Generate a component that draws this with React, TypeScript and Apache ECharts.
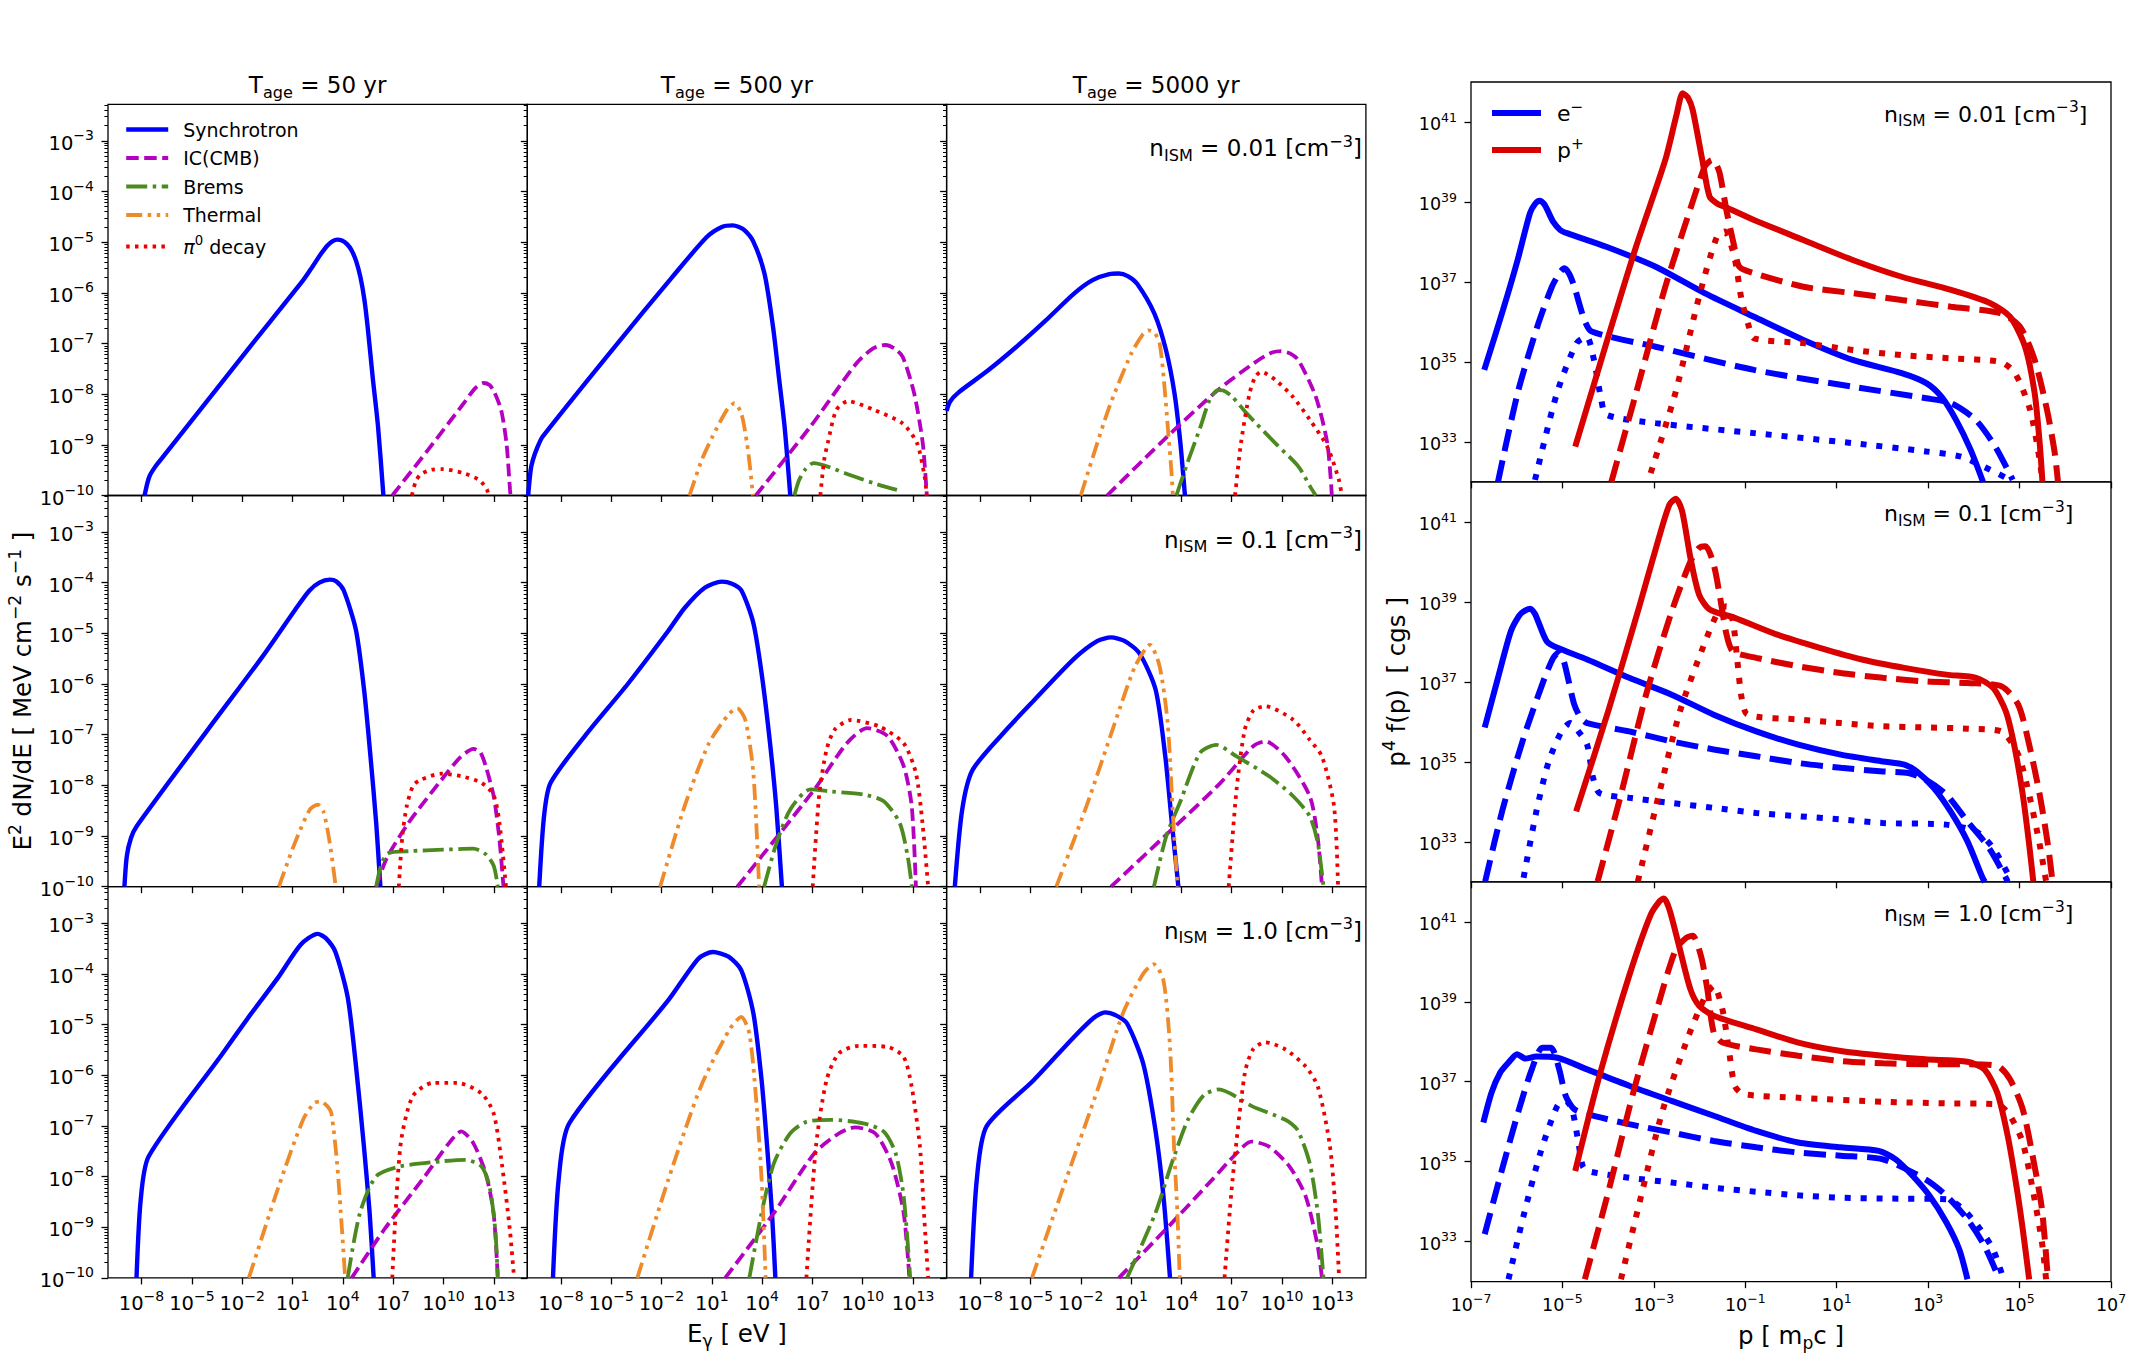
import { useEffect, useRef } from 'react';
import * as echarts from 'echarts';

const FONT = '"DejaVu Sans", sans-serif';

// ---- axis extents and ticks (decades, log10 of the quantity) ----
const energyRange = [-10, 15];
const fluxRange = [-10, -2.28];
const momentumRange = [-7, 7];
const spectrumRange = [32, 42];

const energyTicks = [-8, -5, -2, 1, 4, 7, 10, 13];
const fluxTicks = [-10, -9, -8, -7, -6, -5, -4, -3];
const momentumTicks = [-7, -5, -3, -1, 1, 3, 5, 7];
const spectrumTicks = [33, 35, 37, 39, 41];

const ageLabels = ['50', '500', '5000'];
const densityLabels = ['0.01', '0.1', '1.0'];

// ---- photon spectra, [log10 E/eV, log10 E^2 dN/dE] ----
// n_ISM = 0.01
const synch_n001_t50 = [[-7.82, -10], [-7.65, -9.75], [-7.5, -9.6], [-7.2, -9.44], [-6.97, -9.34], [-4, -8.1], [-1.55, -7.07], [1.64, -5.75], [2.2, -5.48], [2.7, -5.23], [3.1, -5.06], [3.4, -4.98], [3.66, -4.95], [3.95, -4.97], [4.25, -5.04], [4.52, -5.16], [4.8, -5.38], [5.05, -5.69], [5.28, -6.12], [5.48, -6.67], [5.78, -7.66], [6.1, -8.64], [6.42, -10]];
const ic_n001_t50 = [[6.95, -10], [9.08, -9.1], [11.21, -8.18], [11.9, -7.88], [12.38, -7.78], [12.75, -7.82], [13.02, -7.95], [13.44, -8.31], [13.76, -8.97], [13.97, -9.89], [14.0, -10]];
const brems_n001_t50: number[][] = [];
const thermal_n001_t50: number[][] = [];
const pi0_n001_t50 = [[8.12, -10], [8.35, -9.72], [8.65, -9.58], [9.29, -9.49], [9.93, -9.48], [11.21, -9.56], [12.16, -9.7], [12.59, -9.88], [12.7, -10]];

const synch_n001_t500 = [[-9.95, -10], [-9.8, -9.5], [-9.67, -9.3], [-9.4, -9.05], [-9.09, -8.84], [-4.8, -7.07], [-1.36, -5.69], [0.7, -4.9], [1.6, -4.7], [2.25, -4.67], [2.9, -4.75], [3.45, -4.97], [4.14, -5.62], [4.65, -6.67], [5.0, -7.66], [5.34, -8.64], [5.68, -10]];
const ic_n001_t500 = [[3.62, -10], [6.88, -8.64], [9.63, -7.39], [10.6, -7.1], [11.35, -7.03], [11.9, -7.1], [12.38, -7.26], [13.07, -7.99], [13.58, -8.97], [13.82, -10]];
const brems_n001_t500 = [[5.92, -10], [6.2, -9.7], [6.54, -9.5], [7.06, -9.36], [8.95, -9.56], [10.67, -9.76], [12.04, -9.89]];
const thermal_n001_t500 = [[-0.33, -10], [0.4, -9.3], [1.04, -8.84], [1.9, -8.31], [2.35, -8.18], [2.76, -8.38], [3.1, -8.97], [3.3, -9.5], [3.45, -10]];
const pi0_n001_t500 = [[7.47, -10], [7.7, -9.3], [7.91, -8.97], [8.43, -8.31], [9.12, -8.14], [10.67, -8.31], [12.38, -8.58], [13.24, -8.97], [13.69, -9.63], [13.82, -10]];

const synch_n001_t5000 = [[-10, -8.33], [-9.8, -8.15], [-9.3, -7.97], [-7.6, -7.55], [-5.85, -7.07], [-4.1, -6.55], [-2.42, -6.02], [-1.3, -5.75], [-0.3, -5.63], [0.26, -5.62], [0.8, -5.67], [1.36, -5.82], [2.39, -6.41], [3.08, -7.13], [3.59, -7.99], [3.94, -8.97], [4.21, -10]];
const ic_n001_t5000 = [[-0.43, -10], [2.74, -8.97], [6.17, -7.92], [8.58, -7.33], [9.4, -7.18], [9.95, -7.15], [10.5, -7.2], [10.98, -7.33], [12.01, -8.05], [12.7, -8.97], [12.97, -10]];
const brems_n001_t5000 = [[3.7, -10], [4.28, -9.43], [5.14, -8.64], [5.7, -8.1], [6.17, -7.92], [6.5, -7.93], [7.03, -8.05], [7.89, -8.38], [9.61, -8.97], [10.98, -9.43], [11.67, -9.82], [12.01, -10]];
const thermal_n001_t5000 = [[-2.0, -10], [-0.36, -8.31], [1.01, -7.2], [1.7, -6.82], [2.05, -6.74], [2.4, -6.79], [2.7, -7.0], [2.95, -7.7], [3.2, -8.7], [3.4, -9.5], [3.49, -10]];
const pi0_n001_t5000 = [[7.2, -10], [7.55, -8.97], [8.06, -7.99], [8.4, -7.66], [8.75, -7.56], [9.61, -7.72], [10.64, -8.05], [11.67, -8.51], [12.7, -9.04], [13.39, -9.69], [13.56, -10]];

// n_ISM = 0.1
const synch_n01_t50 = [[-9.02, -10], [-8.88, -9.4], [-8.63, -9.04], [-8.3, -8.81], [-4.0, -6.88], [-0.79, -5.46], [1.15, -4.54], [2.0, -4.16], [2.6, -4.0], [3.22, -3.94], [3.6, -3.97], [4.05, -4.15], [4.78, -4.93], [5.27, -6.12], [5.65, -7.43], [5.99, -8.74], [6.24, -10]];
const ic_n01_t50 = [[6.0, -10], [6.6, -9.45], [7.92, -8.74], [9.86, -7.9], [11.0, -7.45], [11.79, -7.28], [12.2, -7.35], [12.52, -7.62], [13.0, -8.22], [13.34, -9.07], [13.58, -10]];
const brems_n01_t50 = [[5.99, -10], [6.3, -9.55], [6.71, -9.34], [7.92, -9.3], [10.0, -9.27], [11.79, -9.25], [12.52, -9.36], [13.0, -9.59], [13.24, -10]];
const thermal_n01_t50 = [[0.19, -10], [1.15, -9.13], [2.03, -8.48], [2.51, -8.38], [2.85, -8.52], [3.22, -9.13], [3.58, -10]];
const pi0_n01_t50 = [[7.34, -10], [7.55, -9.0], [7.82, -8.4], [8.2, -8.0], [8.64, -7.89], [9.85, -7.77], [11.06, -7.82], [12.27, -7.95], [13.0, -8.2], [13.34, -8.74], [13.73, -10]];

const synch_n01_t500 = [[-9.29, -10], [-9.0, -8.6], [-8.61, -7.95], [-6.43, -6.97], [-4.01, -6.0], [-1.59, -4.95], [-0.62, -4.5], [0.58, -4.1], [1.6, -3.98], [2.2, -4.02], [2.76, -4.15], [3.48, -4.8], [3.97, -5.79], [4.45, -7.1], [4.84, -8.41], [5.18, -10]];
const ic_n01_t500 = [[2.52, -10], [7.12, -8.08], [9.05, -7.17], [10.26, -6.87], [11.48, -7.03], [12.44, -7.62], [12.92, -8.41], [13.17, -10]];
const brems_n01_t500 = [[4.12, -10], [4.8, -9.2], [5.67, -8.48], [6.88, -8.08], [8.09, -8.12], [10.03, -8.18], [11.23, -8.31], [12.2, -8.74], [12.68, -9.4], [12.93, -10]];
const thermal_n01_t500 = [[-2.08, -10], [-0.62, -8.41], [0.83, -7.17], [2.0, -6.6], [2.52, -6.48], [3.0, -6.71], [3.48, -7.76], [3.82, -10]];
const pi0_n01_t500 = [[7.02, -10], [7.4, -8.2], [7.84, -7.3], [8.33, -6.9], [9.29, -6.71], [10.99, -6.84], [12.44, -7.17], [13.17, -7.76], [13.56, -8.74], [13.9, -10]];

const synch_n01_t5000 = [[-9.51, -10], [-9.07, -8.48], [-8.44, -7.69], [-6.26, -6.84], [-4.81, -6.33], [-2.39, -5.5], [-1.0, -5.15], [-0.2, -5.08], [0.6, -5.15], [1.49, -5.39], [2.46, -6.11], [3.04, -7.43], [3.43, -8.74], [3.82, -10]];
const ic_n01_t5000 = [[-0.2, -10], [3.43, -8.87], [6.33, -7.95], [8.27, -7.23], [9.0, -7.13], [10.2, -7.43], [11.66, -8.22], [12.14, -9.07], [12.38, -10]];
const brems_n01_t5000 = [[2.36, -10], [3.1, -9.0], [3.9, -8.35], [5.11, -7.36], [6.08, -7.2], [7.29, -7.43], [9.23, -7.82], [10.68, -8.22], [11.65, -8.61], [12.13, -9.13], [12.47, -10]];
const thermal_n01_t5000 = [[-3.46, -10], [-1.66, -8.41], [0.03, -6.77], [1.24, -5.65], [2.12, -5.23], [2.7, -5.65], [3.18, -6.77], [3.52, -8.74], [3.77, -10]];
const pi0_n01_t5000 = [[6.82, -10], [7.29, -8.08], [7.78, -6.9], [8.3, -6.52], [8.99, -6.44], [10.68, -6.71], [11.65, -7.1], [12.38, -7.43], [13.1, -8.41], [13.34, -10]];

// n_ISM = 1.0
const synch_n1_t50 = [[-8.3, -10], [-8.05, -8.46], [-7.57, -7.6], [-3.21, -5.59], [-1.5, -4.8], [0.17, -4.06], [1.5, -3.42], [2.5, -3.21], [3.0, -3.3], [3.56, -3.57], [4.29, -4.46], [4.77, -5.77], [5.26, -7.41], [5.6, -8.72], [5.84, -10]];
const ic_n1_t50 = [[4.53, -10], [6.46, -9.05], [8.88, -8.0], [10.33, -7.34], [11.06, -7.11], [11.78, -7.34], [12.51, -7.93], [12.99, -8.72], [13.24, -10]];
const brems_n1_t50 = [[4.29, -10], [5.02, -8.72], [5.98, -8.0], [7.43, -7.8], [9.85, -7.7], [11.3, -7.67], [12.27, -7.8], [12.75, -8.2], [13.09, -9.05], [13.24, -10]];
const thermal_n1_t50 = [[-1.6, -10], [0.17, -8.2], [1.63, -6.88], [2.3, -6.55], [2.69, -6.52], [3.1, -6.62], [3.32, -6.75], [3.66, -7.74], [3.95, -9.05], [4.14, -10]];
const pi0_n1_t50 = [[6.95, -10], [7.43, -7.41], [8.16, -6.42], [9.37, -6.15], [10.82, -6.15], [12.27, -6.36], [12.99, -6.75], [13.48, -7.74], [13.96, -9.05], [14.21, -10]];

const synch_n1_t500 = [[-8.47, -10], [-8.13, -8.06], [-7.5, -6.95], [-1.59, -4.52], [0.2, -3.7], [1.06, -3.57], [2.0, -3.66], [2.76, -3.93], [3.48, -4.78], [3.97, -6.1], [4.3, -7.41], [4.59, -8.72], [4.79, -10]];
const ic_n1_t500 = [[1.8, -10], [4.7, -8.72], [7.12, -7.54], [8.57, -7.15], [9.54, -7.03], [10.75, -7.15], [11.72, -7.74], [12.44, -8.72], [12.78, -10]];
const brems_n1_t500 = [[3.24, -10], [3.97, -8.72], [4.7, -7.74], [5.67, -7.15], [6.64, -6.92], [8.09, -6.88], [10.03, -6.95], [11.24, -7.11], [11.96, -7.54], [12.44, -8.39], [12.83, -10]];
const thermal_n1_t500 = [[-3.44, -10], [-1.59, -8.06], [0.34, -6.23], [2.03, -5.11], [2.76, -4.85], [3.24, -5.18], [3.63, -6.42], [3.97, -8.06], [4.21, -10]];
const pi0_n1_t500 = [[6.64, -10], [7.21, -7.41], [7.84, -6.1], [8.57, -5.57], [9.78, -5.42], [11.47, -5.44], [12.44, -5.64], [12.92, -6.23], [13.41, -7.41], [13.65, -8.72], [13.9, -10]];

const synch_n1_t5000 = [[-8.54, -10], [-8.2, -8.06], [-7.62, -7.01], [-4.81, -6.1], [-2.39, -5.24], [-1.2, -4.86], [-0.55, -4.76], [0.1, -4.82], [0.76, -4.98], [1.72, -5.77], [2.45, -7.08], [2.93, -8.39], [3.32, -10]];
const ic_n1_t5000 = [[0.27, -10], [3.42, -8.92], [5.84, -8.06], [7.29, -7.54], [8.16, -7.31], [9.23, -7.41], [10.44, -7.8], [11.41, -8.39], [12.13, -9.38], [12.38, -10]];
const brems_n1_t5000 = [[0.76, -10], [2.45, -8.72], [3.42, -7.74], [4.39, -6.88], [5.35, -6.39], [6.22, -6.28], [8.26, -6.62], [10.2, -6.88], [10.92, -7.08], [11.65, -7.74], [12.13, -8.72], [12.47, -10]];
const thermal_n1_t5000 = [[-4.91, -10], [-2.88, -8.06], [-0.94, -6.23], [0.51, -4.78], [1.72, -4.0], [2.35, -3.81], [2.93, -4.13], [3.32, -5.44], [3.56, -7.41], [3.76, -8.72], [3.9, -10]];
const pi0_n1_t5000 = [[6.57, -10], [7.05, -8.06], [7.78, -5.96], [8.27, -5.49], [8.99, -5.35], [10.2, -5.49], [11.41, -5.83], [12.14, -6.23], [12.86, -7.41], [13.2, -8.72], [13.4, -10]];

// ---- particle spectra, [log10 p/(m_p c), log10 p^4 f(p)] ----
const electron_n001_t50 = [[-6.71, 34.8], [-6.3, 36.3], [-5.98, 37.55], [-5.71, 38.72], [-5.6, 38.95], [-5.5, 39.03], [-5.4, 38.95], [-5.33, 38.8], [-5.2, 38.5], [-5.05, 38.3], [-4.9, 38.22], [-4.04, 37.88], [-2.96, 37.38], [-1.89, 36.72], [-0.81, 36.13], [0.27, 35.55], [1.35, 35.05], [2.42, 34.72], [2.96, 34.47], [3.29, 34.13], [3.61, 33.55], [3.93, 32.8], [4.2, 32.0]];
const electron_n001_t500 = [[-6.41, 32.0], [-5.98, 34.22], [-5.55, 35.88], [-5.23, 36.88], [-5.05, 37.25], [-4.96, 37.34], [-4.85, 37.2], [-4.74, 36.88], [-4.52, 36.05], [-4.36, 35.76], [-2.96, 35.38], [-0.81, 34.8], [1.35, 34.38], [2.96, 34.09], [3.5, 33.97], [4.04, 33.55], [4.47, 32.88], [4.85, 32.05]];
const electron_n001_t5000 = [[-5.6, 32.05], [-5.12, 34.22], [-4.69, 35.47], [-4.47, 35.63], [-4.31, 35.05], [-4.15, 34.05], [-4.04, 33.68], [-2.96, 33.47], [-0.81, 33.22], [1.35, 32.97], [2.96, 32.76], [3.72, 32.63], [4.36, 32.3], [4.79, 32.05]];
const proton_n001_t50 = [[-4.72, 32.88], [-4.04, 35.47], [-3.39, 37.88], [-2.75, 40.05], [-2.5, 41.2], [-2.37, 41.72], [-2.25, 41.6], [-2.15, 41.3], [-1.94, 40.05], [-1.78, 39.13], [-1.6, 38.95], [-1.45, 38.88], [-0.81, 38.55], [0.27, 38.05], [1.35, 37.55], [2.42, 37.13], [3.5, 36.8], [4.36, 36.47], [4.79, 36.13], [5.12, 35.38], [5.33, 34.22], [5.44, 32.97], [5.5, 32.0]];
const proton_n001_t500 = [[-3.93, 32.0], [-3.39, 34.22], [-2.75, 36.88], [-2.21, 38.8], [-1.89, 39.88], [-1.78, 40.02], [-1.72, 40.05], [-1.64, 39.95], [-1.56, 39.72], [-1.4, 38.72], [-1.24, 37.88], [-1.13, 37.38], [-0.81, 37.22], [0.27, 36.88], [1.35, 36.72], [2.42, 36.55], [3.5, 36.38], [4.58, 36.22], [5.01, 35.88], [5.33, 35.05], [5.6, 33.8], [5.77, 32.72], [5.84, 32.0]];
const proton_n001_t5000 = [[-3.07, 32.22], [-2.53, 34.22], [-1.99, 36.72], [-1.62, 38.13], [-1.45, 38.26], [-1.24, 37.63], [-1.08, 36.55], [-0.92, 35.88], [-0.81, 35.59], [0.27, 35.47], [1.35, 35.3], [2.42, 35.17], [3.5, 35.09], [4.58, 35.0], [4.9, 34.72], [5.23, 33.8], [5.44, 32.55], [5.5, 32.0]];

const electron_n01_t50 = [[-6.7, 35.86], [-6.41, 37.1], [-6.13, 38.26], [-5.95, 38.65], [-5.85, 38.76], [-5.7, 38.83], [-5.6, 38.7], [-5.53, 38.51], [-5.34, 38.01], [-5.11, 37.85], [-4.46, 37.56], [-3.54, 37.1], [-2.61, 36.68], [-1.69, 36.18], [-0.76, 35.76], [0.16, 35.43], [1.09, 35.18], [2.01, 35.01], [2.48, 34.93], [2.75, 34.76], [3.12, 34.35], [3.49, 33.76], [3.86, 33.01], [4.19, 32.1], [4.24, 32.0]];
const electron_n01_t500 = [[-6.69, 32.01], [-6.32, 33.76], [-5.85, 35.6], [-5.39, 37.1], [-5.2, 37.6], [-5.09, 37.73], [-4.98, 37.55], [-4.88, 37.1], [-4.74, 36.43], [-4.6, 36.1], [-4.46, 35.97], [-3.54, 35.76], [-2.61, 35.51], [-1.69, 35.31], [-0.76, 35.14], [0.16, 34.97], [1.09, 34.85], [2.01, 34.76], [2.57, 34.72], [2.94, 34.56], [3.4, 34.18], [3.86, 33.51], [4.33, 32.85], [4.7, 32.1], [4.74, 32.0]];
const electron_n01_t5000 = [[-5.85, 32.1], [-5.57, 33.76], [-5.3, 35.01], [-5.02, 35.76], [-4.83, 35.97], [-4.65, 35.76], [-4.46, 35.43], [-4.33, 34.6], [-4.19, 34.22], [-3.54, 34.1], [-2.61, 33.97], [-1.69, 33.85], [-0.76, 33.72], [0.16, 33.64], [1.09, 33.56], [2.01, 33.47], [3.4, 33.43], [4.05, 33.26], [4.42, 32.85], [4.79, 32.1], [4.82, 32.0]];
const proton_n01_t50 = [[-4.7, 33.76], [-4.0, 36.26], [-3.35, 38.76], [-2.89, 40.6], [-2.66, 41.43], [-2.52, 41.58], [-2.38, 41.26], [-2.2, 40.1], [-2.01, 39.18], [-1.78, 38.81], [-1.23, 38.6], [-0.3, 38.18], [0.63, 37.85], [1.55, 37.56], [2.48, 37.35], [3.4, 37.18], [4.05, 37.1], [4.42, 36.85], [4.7, 36.26], [4.88, 35.43], [5.07, 34.18], [5.21, 32.93], [5.3, 32.01]];
const proton_n01_t500 = [[-4.23, 32.01], [-3.72, 34.18], [-3.17, 36.68], [-2.61, 38.76], [-2.2, 40.01], [-2.01, 40.35], [-1.87, 40.39], [-1.69, 39.93], [-1.55, 39.1], [-1.41, 38.18], [-1.27, 37.76], [-0.76, 37.6], [0.16, 37.39], [1.09, 37.22], [2.01, 37.1], [2.94, 37.01], [3.86, 36.97], [4.6, 36.89], [4.97, 36.43], [5.21, 35.43], [5.44, 34.18], [5.62, 32.93], [5.72, 32.01]];
const proton_n01_t5000 = [[-3.35, 32.01], [-2.89, 34.18], [-2.43, 36.26], [-1.96, 37.76], [-1.59, 38.76], [-1.41, 38.89], [-1.27, 38.51], [-1.18, 37.6], [-1.08, 36.6], [-0.95, 36.18], [0.16, 36.06], [1.09, 35.97], [2.01, 35.89], [2.94, 35.86], [3.86, 35.83], [4.6, 35.76], [4.97, 35.18], [5.21, 34.18], [5.44, 32.93], [5.58, 32.01]];

const electron_n1_t50 = [[-6.73, 35.98], [-6.55, 36.73], [-6.36, 37.23], [-6.18, 37.48], [-5.99, 37.69], [-5.81, 37.58], [-5.57, 37.63], [-5.11, 37.6], [-4.46, 37.31], [-3.54, 36.9], [-2.61, 36.52], [-1.69, 36.15], [-0.76, 35.77], [0.16, 35.48], [1.09, 35.36], [1.92, 35.27], [2.29, 35.06], [2.66, 34.65], [3.03, 34.15], [3.4, 33.48], [3.68, 32.81], [3.86, 32.06]];
const electron_n1_t500 = [[-6.7, 33.19], [-6.32, 34.81], [-5.95, 36.31], [-5.67, 37.31], [-5.44, 37.85], [-5.25, 37.85], [-5.07, 37.31], [-4.93, 36.65], [-4.74, 36.31], [-4.46, 36.19], [-3.54, 35.94], [-2.61, 35.73], [-1.69, 35.52], [-0.76, 35.36], [0.16, 35.23], [1.09, 35.15], [2.01, 35.06], [2.94, 34.56], [3.4, 34.15], [3.86, 33.56], [4.23, 32.9], [4.56, 32.06]];
const electron_n1_t5000 = [[-6.18, 32.06], [-5.85, 33.65], [-5.48, 35.23], [-5.11, 36.4], [-4.93, 36.52], [-4.79, 36.31], [-4.65, 35.48], [-4.56, 34.9], [-4.46, 34.77], [-3.54, 34.6], [-2.61, 34.48], [-1.69, 34.35], [-0.76, 34.25], [0.16, 34.16], [1.09, 34.1], [2.01, 34.08], [3.4, 34.06], [3.77, 33.81], [4.14, 33.31], [4.42, 32.81], [4.65, 32.06]];
const proton_n1_t50 = [[-4.72, 34.77], [-4.19, 37.15], [-3.54, 39.65], [-3.08, 41.15], [-2.87, 41.52], [-2.78, 41.58], [-2.66, 41.31], [-2.43, 40.31], [-2.2, 39.31], [-2.01, 38.9], [-1.69, 38.65], [-0.76, 38.31], [0.16, 37.98], [1.09, 37.77], [2.01, 37.65], [2.94, 37.56], [3.86, 37.5], [4.23, 37.31], [4.51, 36.73], [4.74, 35.65], [4.93, 34.4], [5.07, 33.31], [5.21, 32.06]];
const proton_n1_t500 = [[-4.51, 32.06], [-4.0, 34.23], [-3.45, 36.73], [-2.89, 38.98], [-2.52, 40.31], [-2.29, 40.6], [-2.15, 40.65], [-1.97, 40.15], [-1.83, 39.31], [-1.69, 38.23], [-1.5, 37.98], [-0.76, 37.81], [0.16, 37.65], [1.09, 37.52], [2.01, 37.46], [2.94, 37.44], [3.86, 37.44], [4.51, 37.4], [4.79, 37.06], [5.07, 36.31], [5.3, 35.06], [5.49, 33.81], [5.62, 32.06]];
const proton_n1_t5000 = [[-3.72, 32.06], [-3.26, 34.23], [-2.8, 36.31], [-2.24, 38.15], [-1.87, 39.15], [-1.69, 39.4], [-1.5, 38.81], [-1.36, 37.81], [-1.23, 36.9], [-1.04, 36.69], [0.16, 36.6], [2.01, 36.5], [3.4, 36.46], [4.51, 36.44], [4.79, 36.15], [5.07, 35.48], [5.3, 34.23], [5.49, 32.98], [5.58, 32.06]];

// ---- panel tables ----
const photonPanels = [
  [
    [synch_n001_t50, ic_n001_t50, brems_n001_t50, thermal_n001_t50, pi0_n001_t50],
    [synch_n001_t500, ic_n001_t500, brems_n001_t500, thermal_n001_t500, pi0_n001_t500],
    [synch_n001_t5000, ic_n001_t5000, brems_n001_t5000, thermal_n001_t5000, pi0_n001_t5000],
  ],
  [
    [synch_n01_t50, ic_n01_t50, brems_n01_t50, thermal_n01_t50, pi0_n01_t50],
    [synch_n01_t500, ic_n01_t500, brems_n01_t500, thermal_n01_t500, pi0_n01_t500],
    [synch_n01_t5000, ic_n01_t5000, brems_n01_t5000, thermal_n01_t5000, pi0_n01_t5000],
  ],
  [
    [synch_n1_t50, ic_n1_t50, brems_n1_t50, thermal_n1_t50, pi0_n1_t50],
    [synch_n1_t500, ic_n1_t500, brems_n1_t500, thermal_n1_t500, pi0_n1_t500],
    [synch_n1_t5000, ic_n1_t5000, brems_n1_t5000, thermal_n1_t5000, pi0_n1_t5000],
  ],
];

const particlePanels = [
  [[electron_n001_t50, electron_n001_t500, electron_n001_t5000], [proton_n001_t50, proton_n001_t500, proton_n001_t5000]],
  [[electron_n01_t50, electron_n01_t500, electron_n01_t5000], [proton_n01_t50, proton_n01_t500, proton_n01_t5000]],
  [[electron_n1_t50, electron_n1_t500, electron_n1_t5000], [proton_n1_t50, proton_n1_t500, proton_n1_t5000]],
];

const processNames = ['Synchrotron', 'IC(CMB)', 'Brems', 'Thermal', 'π0 decay'];
const processStyles = [
  { color: '#0000ff', width: 4.4, type: 'solid' },
  { color: '#b400c0', width: 3.8, type: [12.5, 5.5] },
  { color: '#4c8a1f', width: 3.8, type: [21, 5.5, 3.5, 5.5] },
  { color: '#ee8a2a', width: 3.8, type: [16, 5.5, 3.5, 5.5, 3.5, 5.5] },
  { color: '#ee0000', width: 3.8, type: [3.5, 5.3] },
];
const particleNames = ['e\u2212', 'p+'];
const particleColors = ['#0000ff', '#d90000'];
const ageDashes: any[] = ['solid', [22, 9.6], [6, 9.9]];

// ---- layout (px) ----
const L = { x0: 108, y0: 104.3, w: 419.3, h: 391.2 };
const R = { x0: 1471, y0: 82, w: 640, h: 399.9 };

const minus = (v: number) => (v < 0 ? '\u2212' + Math.abs(v) : String(v));
const pow10 = (v: number) => `{b|10}{s|${minus(Math.round(v))}}`;

const tickRich = (size: number, supSize: number, raise: number) => ({
  b: { fontFamily: FONT, fontSize: size, color: '#000', lineHeight: supSize + 2 * raise, verticalAlign: 'bottom' },
  s: { fontFamily: FONT, fontSize: supSize, color: '#000', lineHeight: supSize, verticalAlign: 'top' },
});

// rich styles for mathtext-like labels drawn through graphic texts
const mathRich = (size: number) => {
  const lh = Math.round(size * 1.3);
  return {
    b: { fontFamily: FONT, fontSize: size, fill: '#000', lineHeight: lh, verticalAlign: 'middle' },
    i: { fontFamily: FONT, fontSize: size, fontStyle: 'italic', fill: '#000', lineHeight: lh, verticalAlign: 'middle' },
    sup: { fontFamily: FONT, fontSize: size * 0.7, fill: '#000', lineHeight: lh - 2 * size * 0.23, verticalAlign: 'top' },
    sub: { fontFamily: FONT, fontSize: size * 0.7, fill: '#000', lineHeight: lh - 2 * size * 0.3, verticalAlign: 'bottom' },
  };
};

const mathText = (text: string, x: number, y: number, size: number, align: string, rotation = 0) => ({
  type: 'text',
  x,
  y,
  rotation,
  silent: true,
  style: {
    text,
    rich: mathRich(size),
    fontFamily: FONT,
    fontSize: size,
    fill: '#000',
    align,
    textAlign: align,
    verticalAlign: 'middle',
    textVerticalAlign: 'middle',
  },
});

function buildOption() {
  const grid: any[] = [];
  const xAxis: any[] = [];
  const yAxis: any[] = [];
  const series: any[] = [];
  const graphic: any[] = [];

  const frame = { show: true, borderColor: '#000', borderWidth: 1.3, backgroundColor: 'transparent' };
  const tickLine = { color: '#000', width: 1.3 };

  // photon spectra: 3 x 3 panels
  for (let r = 0; r < 3; r++) {
    for (let c = 0; c < 3; c++) {
      const idx = grid.length;
      grid.push({ ...frame, left: L.x0 + c * L.w, top: L.y0 + r * L.h, width: L.w, height: L.h });
      xAxis.push({
        gridIndex: idx, type: 'value', min: energyRange[0], max: energyRange[1],
        axisLine: { show: false, onZero: false }, splitLine: { show: false },
        axisTick: { show: true, customValues: energyTicks, length: 6.5, lineStyle: tickLine },
        axisLabel: { show: r === 2, customValues: energyTicks, formatter: pow10, rich: tickRich(19.5, 14, 5.5), margin: 11 },
      });
      yAxis.push({
        gridIndex: idx, type: 'value', min: fluxRange[0], max: fluxRange[1], position: 'left',
        axisLine: { show: false, onZero: false }, splitLine: { show: false },
        axisTick: { show: true, customValues: fluxTicks, length: 6.5, lineStyle: tickLine },
        axisLabel: { show: c === 0, customValues: fluxTicks, formatter: pow10, rich: tickRich(19.5, 14, 5.5), margin: 14 },
      });
      photonPanels[r][c].forEach((data, k) => {
        if (!data.length) return;
        const st = processStyles[k];
        series.push({
          type: 'line', name: processNames[k], xAxisIndex: idx, yAxisIndex: idx, data,
          showSymbol: false, symbol: 'none', smooth: 0.25, silent: true, clip: true,
          emphasis: { disabled: true }, z: 2 + k,
          itemStyle: { color: st.color },
          lineStyle: { color: st.color, width: st.width, type: st.type, cap: 'butt' },
        });
      });
    }
  }

  // particle spectra: 3 panels on the right
  for (let r = 0; r < 3; r++) {
    const idx = grid.length;
    grid.push({ ...frame, left: R.x0, top: R.y0 + r * R.h, width: R.w, height: R.h });
    xAxis.push({
      gridIndex: idx, type: 'value', min: momentumRange[0], max: momentumRange[1],
      axisLine: { show: false, onZero: false }, splitLine: { show: false },
      axisTick: { show: true, customValues: momentumTicks, length: 6.5, lineStyle: tickLine },
      axisLabel: { show: r === 2, customValues: momentumTicks, formatter: pow10, rich: tickRich(17.5, 12.5, 5), margin: 10 },
    });
    yAxis.push({
      gridIndex: idx, type: 'value', min: spectrumRange[0], max: spectrumRange[1], position: 'left',
      axisLine: { show: false, onZero: false }, splitLine: { show: false },
      axisTick: { show: true, customValues: spectrumTicks, length: 6.5, lineStyle: tickLine },
      axisLabel: { show: true, customValues: spectrumTicks, formatter: pow10, rich: tickRich(17.5, 12.5, 5), margin: 14 },
    });
    particlePanels[r].forEach((byAge, p) => {
      byAge.forEach((data, a) => {
        series.push({
          type: 'line', name: particleNames[p], xAxisIndex: idx, yAxisIndex: idx, data,
          showSymbol: false, symbol: 'none', smooth: 0.25, silent: true, clip: true,
          emphasis: { disabled: true }, z: 2 + p * 3 + a,
          itemStyle: { color: particleColors[p] },
          lineStyle: { color: particleColors[p], width: 6, type: ageDashes[a], cap: 'butt' },
        });
      });
    });
  }

  // minor ticks on the photon flux axes (2..9 x 10^n)
  const minorFlux: number[] = [];
  for (let n = fluxRange[0]; n < 0; n++) {
    for (let k = 2; k <= 9; k++) {
      const v = n + Math.log10(k);
      if (v < fluxRange[1]) minorFlux.push(v);
    }
  }
  for (let i = 0; i < 9; i++) {
    yAxis.push({
      gridIndex: i, type: 'value', min: fluxRange[0], max: fluxRange[1], position: 'left',
      axisLine: { show: false, onZero: false }, splitLine: { show: false }, axisLabel: { show: false },
      axisTick: { show: true, customValues: minorFlux, length: 3.6, lineStyle: { color: '#000', width: 1 } },
    });
  }

  // column titles and density annotations
  ageLabels.forEach((age, c) => {
    graphic.push(mathText(`{b|T}{sub|age}{b| = ${age} yr}`, L.x0 + (c + 0.5) * L.w, 85, 23, 'center'));
  });
  densityLabels.forEach((n, r) => {
    const t = `{b|n}{sub|ISM}{b| = ${n} [cm}{sup|\u22123}{b|]}`;
    graphic.push(mathText(t, L.x0 + 3 * L.w - 4, L.y0 + r * L.h + 44, 23, 'right'));
    graphic.push(mathText(t, 1884, R.y0 + r * R.h + 32, 22, 'left'));
  });

  // axis titles
  graphic.push(mathText('{b|E}{sup|2}{b| dN/dE [ MeV cm}{sup|\u22122}{b| s}{sup|\u22121}{b| ]}', 22, L.y0 + 1.5 * L.h, 24.5, 'center', Math.PI / 2));
  graphic.push(mathText('{b|E}{sub|\u03b3}{b| [ eV ]}', L.x0 + 1.5 * L.w, 1333, 24.5, 'center'));
  graphic.push(mathText('{b|p}{sup|4}{b| f(p)  [ cgs ]}', 1396, R.y0 + 1.5 * R.h, 24.5, 'center', Math.PI / 2));
  graphic.push(mathText('{b|p [ m}{sub|p}{b|c ]}', R.x0 + R.w / 2, 1335, 24.5, 'center'));

  const legendRich = (size: number) => ({
    b: { fontFamily: FONT, fontSize: size, color: '#000', lineHeight: size + 6, verticalAlign: 'middle' },
    i: { fontFamily: FONT, fontSize: size, fontStyle: 'italic', color: '#000', lineHeight: size + 6, verticalAlign: 'middle' },
    sup: { fontFamily: FONT, fontSize: size * 0.7, color: '#000', lineHeight: size + 6 - 2 * size * 0.25, verticalAlign: 'top' },
  });

  const legend = [
    {
      data: processNames, orient: 'vertical', left: 124, top: 120, padding: 0,
      itemWidth: 42, itemHeight: 19, itemGap: 9.5, selectedMode: false,
      itemStyle: { opacity: 0 },
      lineStyle: { width: 'inherit', opacity: 1 },
      textStyle: { fontFamily: FONT, fontSize: 19, color: '#000', padding: [0, 0, 0, 10], rich: legendRich(19) },
      formatter: (name: string) => (name === 'π0 decay' ? '{i|π}{sup|0}{b| decay}' : `{b|${name}}`),
    },
    {
      data: particleNames, orient: 'vertical', left: 1489, top: 99, padding: 0,
      itemWidth: 49, itemHeight: 22, itemGap: 12, selectedMode: false,
      itemStyle: { opacity: 0 },
      lineStyle: { width: 'inherit', opacity: 1 },
      textStyle: { fontFamily: FONT, fontSize: 22, color: '#000', padding: [0, 0, 0, 11], rich: legendRich(22) },
      formatter: (name: string) => (name === 'p+' ? '{b|p}{sup|+}' : '{b|e}{sup|\u2212}'),
    },
  ];

  return {
    animation: false,
    backgroundColor: '#ffffff',
    textStyle: { fontFamily: FONT },
    grid,
    xAxis,
    yAxis,
    series,
    legend,
    graphic,
  };
}

export default function App() {
  const ref = useRef<HTMLDivElement>(null);
  useEffect(() => {
    if (!ref.current) return;
    const chart = echarts.init(ref.current, null, { renderer: 'svg' });
    chart.setOption(buildOption() as any);
    return () => chart.dispose();
  }, []);
  return (
    <div
      ref={ref}
      style={{ position: 'absolute', left: 0, top: 0, width: 2133, height: 1354, background: '#fff' }}
    />
  );
}
